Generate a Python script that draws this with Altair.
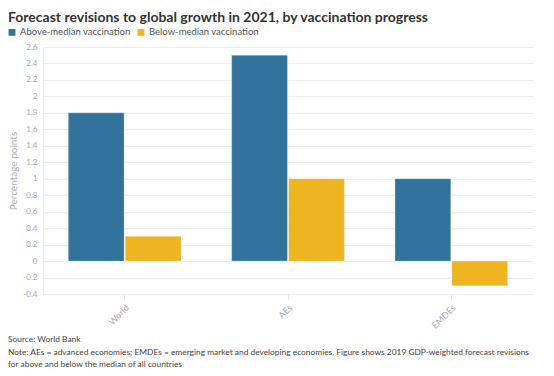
import altair as alt
import pandas as pd

categories = ["World", "AEs", "EMDEs"]
above_median = [1.8, 2.5, 1.0]
below_median = [0.3, 1.0, -0.3]
series_names = ["Above-median vaccination", "Below-median vaccination"]
series_colors = ["#32739C", "#EFB421"]
y_ticks = [-0.4, -0.2, 0.0, 0.2, 0.4, 0.6, 0.8, 1.0, 1.2, 1.4, 1.6, 1.8, 2.0, 2.2, 2.4, 2.6]
title_text = "Forecast revisions to global growth in 2021, by vaccination progress"
footer_lines = [
    "Source: World Bank",
    "Note: AEs = advanced economies; EMDEs = emerging market and developing economies. Figure shows 2019 GDP-weighted forecast revisions",
    "for above and below the median of all countries",
]

rows = []
for c, a, b in zip(categories, above_median, below_median):
    rows.append({"cat": c, "series": series_names[0], "value": a})
    rows.append({"cat": c, "series": series_names[1], "value": b})
df = pd.DataFrame(rows)

FONT = "Lato"

bars = alt.Chart(df).mark_bar(strokeWidth=1, strokeOpacity=0.25, stroke="white").encode(
    x=alt.X("cat:N", sort=categories,
            scale=alt.Scale(paddingInner=0.31, paddingOuter=0.155),
            axis=alt.Axis(title=None, labelAngle=-45, labelColor="#aaaaaa", labelFontSize=9,
                          labelFont=FONT, domain=False, ticks=True, tickColor="#e6e6e6",
                          tickSize=5, labelPadding=4, grid=False)),
    xOffset=alt.XOffset("series:N", sort=series_names,
                        scale=alt.Scale(paddingInner=0.02)),
    y=alt.Y("value:Q", scale=alt.Scale(domain=[-0.4, 2.6], nice=False, zero=False),
            axis=alt.Axis(values=y_ticks, labelExpr="'' + datum.value",
                          title="Percentage points", titleColor="#b0b0b0", titleFontSize=10,
                          titleFont=FONT, titleFontWeight="normal", titlePadding=4,
                          labelColor="#aaaaaa", labelFontSize=8, labelFont=FONT,
                          labelPadding=6, ticks=False, domain=True, domainColor="#eeeeee",
                          gridColor="#eeeeee", gridWidth=1)),
    color=alt.Color("series:N", sort=series_names,
                    scale=alt.Scale(domain=series_names, range=series_colors),
                    legend=alt.Legend(title=None, orient="none", direction="horizontal",
                                      legendX=-36, legendY=-20, symbolType="square",
                                      symbolSize=70,
                                      labelFontSize=9.5, labelFont=FONT, labelColor="#555555",
                                      columnPadding=2, labelOffset=3)),
)

footer = alt.Chart(pd.DataFrame({"line": footer_lines, "idx": [0, 1, 2]})).mark_text(
    align="left", baseline="alphabetic", font=FONT, fontSize=8.4, color="#444444"
).encode(
    text="line:N",
    x=alt.value(-35),
    y=alt.Y("idx:Q", scale=alt.Scale(domain=[0, 2], range=[295, 320]), axis=None),
)

title = alt.Chart(pd.DataFrame({"t": [title_text]})).mark_text(
    align="left", baseline="alphabetic", font=FONT, fontSize=14, fontWeight="bold",
    color="#333333"
).encode(text="t:N", x=alt.value(-35), y=alt.value(-25))

chart = alt.layer(bars, footer, title).resolve_scale(y="independent").properties(
    width=490, height=247,
    padding={"left": 35, "top": 39, "right": 13, "bottom": 82},
    autosize=alt.AutoSizeParams(type="none"),
).configure_view(stroke=None)

chart.save("out.html", embed_options={"renderer": "svg", "actions": False})
